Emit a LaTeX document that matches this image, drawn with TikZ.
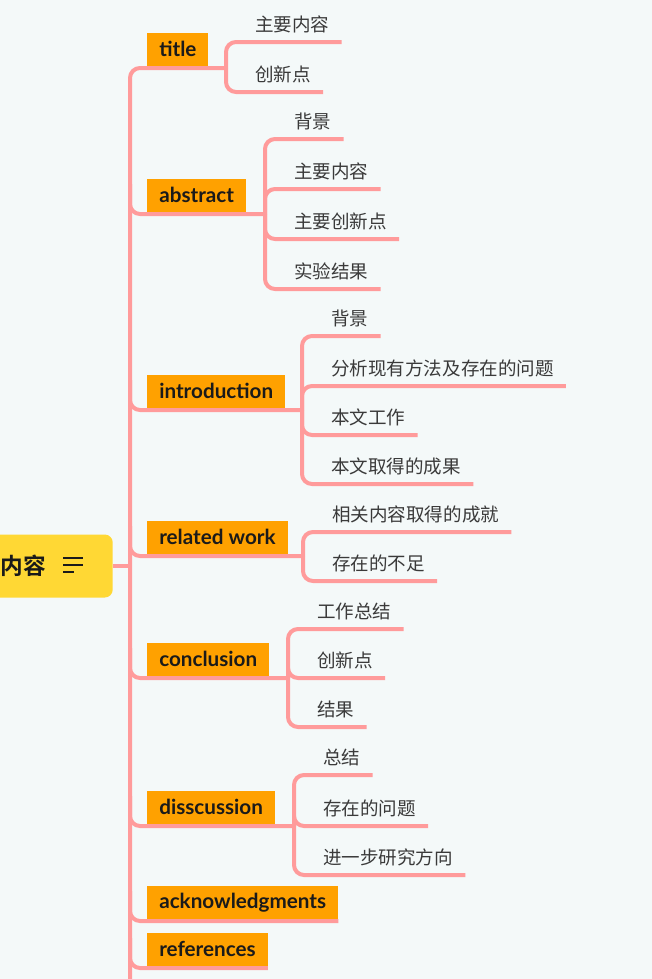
\documentclass[tikz,border=0pt]{standalone}
\usepackage{fontspec}
\setmainfont{Lato}
\newfontfamily\cjk{Noto Sans CJK SC}[BoldFont={Noto Sans CJK SC Bold}]
\usetikzlibrary{positioning, calc, backgrounds}
\definecolor{paper}{HTML}{F4F9F9}
\definecolor{wire}{HTML}{FF9B9B}
\definecolor{amber}{HTML}{FFA100}
\definecolor{sun}{HTML}{FFD834}
\definecolor{ink}{HTML}{1A1A1A}
\definecolor{grey}{HTML}{3A3A3A}

\begin{document}
\begin{tikzpicture}[x=0.75pt, y=-0.75pt,
  link/.style={draw=wire, line width=3pt, rounded corners=7.5pt},
  topic/.style={rectangle, fill=amber, anchor=south west, inner xsep=9pt, inner ysep=0pt,
                minimum height=24.75pt, text=ink, font=\bfseries\fontsize{15.5}{17}\selectfont},
  leaf/.style={anchor=south west, inner xsep=9pt, inner ysep=8pt, text depth=0pt,
               text=grey, font=\cjk\fontsize{13.9}{15}\selectfont},
  rootbox/.style={rectangle, fill=sun, rounded corners=6pt, minimum height=47.25pt,
                  inner xsep=0pt, text=ink, font=\cjk\bfseries\fontsize{17}{19}\selectfont}]
  \useasboundingbox (0,0) rectangle (652,979);

  % root
  \node[rootbox, anchor=east] (root) at (113,566) {\kern15pt 内容\kern50.25pt};
  \draw[ink, line width=1.5pt] ([xshift=-37.5pt, yshift=6pt]root.east) -- ++(20,0);
  \draw[ink, line width=1.5pt] ([xshift=-37.5pt, yshift=0.75pt]root.east) -- ++(20,0);
  \draw[ink, line width=1.5pt] ([xshift=-37.5pt, yshift=-4.5pt]root.east) -- ++(11,0);
  \coordinate (spine) at (130,979);

  % topics
  \node[topic] (title) at (147,66) {title};
  \node[topic] (abstract) at (147,212) {abstract};
  \node[topic] (intro) at (147,408) {introduction};
  \node[topic] (related) at (147,554) {related work};
  \node[topic] (concl) at (147,676) {conclusion};
  \node[topic] (discuss) at (147,824) {disscussion};
  \node[topic] (ack) at (147,919) {acknowledgments};
  \node[topic] (refs) at (147,966) {references};

  \coordinate (title-j) at (226,68);
  \coordinate (abstract-j) at (265,214);
  \coordinate (intro-j) at (302,410);
  \coordinate (related-j) at (303,556);
  \coordinate (concl-j) at (288,678);
  \coordinate (discuss-j) at (294,826);
  \coordinate (ack-j) at (ack.south east |- 0,921);
  \coordinate (refs-j) at (refs.south east |- 0,968);

  % leaves
  \node[leaf] (title-a) at (243,42) {主要内容};
  \node[leaf] (title-b) at (243,92) {创新点};
  \node[leaf] (abstract-a) at (282,139) {背景};
  \node[leaf] (abstract-b) at (282,189) {主要内容};
  \node[leaf] (abstract-c) at (282,239) {主要创新点};
  \node[leaf] (abstract-d) at (282,289) {实验结果};
  \node[leaf] (intro-a) at (319,336) {背景};
  \node[leaf] (intro-b) at (319,386) {分析现有方法及存在的问题};
  \node[leaf] (intro-c) at (319,435) {本文工作};
  \node[leaf] (intro-d) at (319,484) {本文取得的成果};
  \node[leaf] (related-a) at (320,532) {相关内容取得的成就};
  \node[leaf] (related-b) at (320,581) {存在的不足};
  \node[leaf] (concl-a) at (305,629) {工作总结};
  \node[leaf] (concl-b) at (305,678) {创新点};
  \node[leaf] (concl-c) at (305,727) {结果};
  \node[leaf] (discuss-a) at (311,775) {总结};
  \node[leaf] (discuss-b) at (311,826) {存在的问题};
  \node[leaf] (discuss-c) at (311,875) {进一步研究方向};

  \begin{pgfonlayer}{background}
    \fill[paper] (0,0) rectangle (652,979);
    \draw[link] (root.east) -- (spine |- root.east);
    \draw[link] (spine) -- (spine |- title-j) -- (title-j);
    \foreach \t in {abstract, intro, related, concl, discuss, ack, refs}
      \draw[link] (spine |- \t-j) +(0,-30) -- (spine |- \t-j) -- (\t-j);
    \foreach \t/\l in {title/a, title/b, abstract/a, abstract/b, abstract/c, abstract/d,
                       intro/a, intro/b, intro/c, intro/d, related/a, related/b,
                       concl/a, concl/b, concl/c, discuss/a, discuss/b, discuss/c}
      \draw[link] (\t-j) -- (\t-j |- \t-\l.south) -- (\t-\l.south east);
  \end{pgfonlayer}
\end{tikzpicture}
\end{document}
